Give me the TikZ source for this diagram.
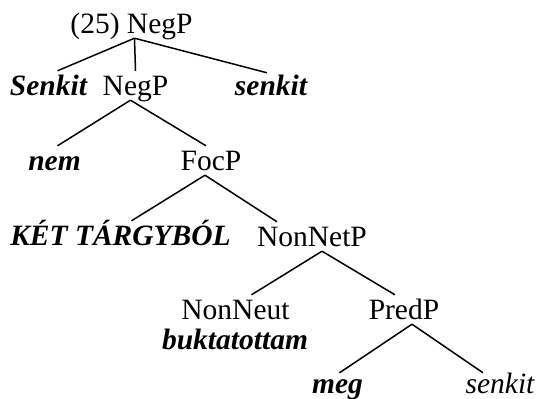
\documentclass[tikz,border=0pt]{standalone}
\usepackage{fontspec}
\setmainfont{Liberation Serif}
\usepackage{tikz}

\tikzset{
  cat/.style={anchor=base, inner sep=0pt, text height=24pt, text depth=5pt},
  lex/.style={cat, font=\bfseries\itshape},
  branch/.style={line width=1.5pt}
}

\begin{document}
\begin{tikzpicture}[x=1pt,y=-1pt]
			\fontsize{29.5}{34}\selectfont
			\useasboundingbox (0,0) rectangle (536,399);
			% labels
			\node [cat] (root) at (131.5,33) {(25) NegP};
			\node [lex] (Senkit) at (48.5,95) {Senkit};
			\node [cat] (negp) at (135.5,95) {NegP};
			\node [lex] (senkitA) at (271,95) {senkit};
			\node [lex] (nem) at (54.5,170) {nem};
			\node [cat] (focp) at (211,170) {FocP};
			\node [lex] (ket) at (120.5,245) {KÉT TÁRGYBÓL};
			\node [cat] (nonnetp) at (312,246) {NonNetP};
			\node [cat] (nonneut) at (235.5,319) {NonNeut};
			\node [lex] (buk) at (235,349) {buktatottam};
			\node [cat] (predp) at (404,319) {PredP};
			\node [lex] (meg) at (337.5,393) {meg};
			\node [cat, font=\itshape] (senkitB) at (500,393) {senkit};
			% branches
			\draw [branch] ([xshift=3pt]root.south) -- ([xshift=9pt]Senkit.north);
			\draw [branch] ([xshift=3pt]root.south) -- (negp.north);
			\draw [branch] ([xshift=3pt]root.south) -- ([xshift=-4pt,yshift=-2pt]senkitA.north);
			\draw [branch] ([xshift=-5pt]negp.south) -- ([xshift=3pt]nem.north);
			\draw [branch] ([xshift=-5pt]negp.south) -- ([xshift=-5pt]focp.north);
			\draw [branch] ([xshift=-6pt]focp.south) -- ([xshift=11pt]ket.north);
			\draw [branch] ([xshift=-6pt]focp.south) -- ([xshift=-35pt]nonnetp.north);
			\draw [branch] ([xshift=10pt]nonnetp.south) -- ([xshift=16pt]nonneut.north);
			\draw [branch] ([xshift=10pt]nonnetp.south) -- ([xshift=-9pt]predp.north);
			\draw [branch] ([xshift=8pt]predp.south) -- ([xshift=2pt,yshift=-4pt]meg.north);
			\draw [branch] ([xshift=8pt]predp.south) -- ([xshift=-17pt,yshift=-4pt]senkitB.north);
		\end{tikzpicture}
\end{document}
